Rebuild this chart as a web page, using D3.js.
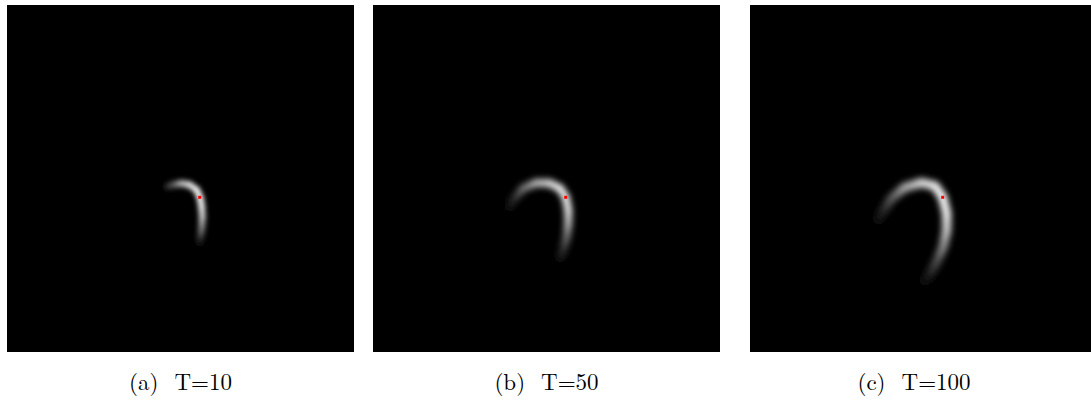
<!DOCTYPE html>
<html>
<head>
<meta charset="utf-8">
<script src="https://cdn.jsdelivr.net/npm/d3@7"></script>
<style>
  html, body { margin: 0; padding: 0; background: #fff; }
  svg { display: block; }
</style>
</head>
<body>
<script>
// Step counts shown under each frame
const panelTags = ["(a)", "(b)", "(c)"];
const stepCounts = [10, 50, 100];

// Source location (grid units, 0..347 on each axis)
const sourcePoint = [192.7, 192.3];

// Ridge of the intensity field for each frame: [x, y, intensity]
const ridgeT10 = [
  [156.3, 183.3, 0.00],
  [164.7, 180.0, 0.30],
  [174.7, 178.3, 0.70],
  [183.0, 180.0, 0.90],
  [189.7, 185.0, 1.00],
  [193.0, 192.3, 1.00],
  [194.7, 201.7, 0.95],
  [195.3, 211.7, 0.80],
  [194.7, 223.3, 0.50],
  [193.0, 235.0, 0.15],
  [192.0, 241.0, 0.00]
];
const ridgeT50 = [
  [133.7, 208.3, 0.00],
  [140.3, 195.0, 0.15],
  [150.3, 183.3, 0.45],
  [163.7, 177.7, 0.75],
  [177.0, 178.3, 0.90],
  [187.0, 183.3, 1.00],
  [192.7, 192.3, 1.00],
  [195.3, 205.0, 0.95],
  [195.3, 218.3, 0.75],
  [193.7, 231.7, 0.45],
  [190.3, 245.0, 0.20],
  [185.3, 258.3, 0.00]
];
const ridgeT100 = [
  [125.0, 221.7, 0.00],
  [131.7, 208.3, 0.12],
  [141.7, 193.3, 0.35],
  [155.0, 182.3, 0.65],
  [171.7, 177.7, 0.85],
  [185.0, 181.0, 0.95],
  [192.7, 192.3, 1.00],
  [196.7, 208.3, 0.95],
  [196.7, 225.0, 0.80],
  [193.3, 241.7, 0.55],
  [186.7, 256.7, 0.30],
  [178.3, 271.7, 0.10],
  [170.0, 281.7, 0.00]
];
const ridges = [ridgeT10, ridgeT50, ridgeT100];

// Layout
const W = 1091, H = 404;
const frameSize = 347;
const frameLeft = [7, 373, 750];
const captionCenter = [180.5, 546.5, 914];
const frameTop = 5;
const bandWidth = [6.5, 7.5, 9];
const blurSigma = [2.7, 3.0, 3.3];

const svg = d3.select("body").append("svg")
  .attr("width", W).attr("height", H);
const defs = svg.append("defs");

const gx = d3.scaleLinear().domain([0, 347]).range([0, frameSize]);
const gy = d3.scaleLinear().domain([0, 347]).range([0, frameSize]);
const shade = d3.scaleLinear().domain([0, 1]).range(["#000000", "#ffffff"]);

ridges.forEach((ridge, k) => {
  const g = svg.append("g")
    .attr("transform", `translate(${frameLeft[k]},${frameTop})`);

  const clipId = `clip-${k}`;
  defs.append("clipPath").attr("id", clipId)
    .append("rect").attr("width", frameSize).attr("height", frameSize);

  g.append("rect")
    .attr("width", frameSize).attr("height", frameSize)
    .attr("fill", "#000");

  const blurId = `blur-${k}`;
  defs.append("filter").attr("id", blurId)
    .attr("x", "-50%").attr("y", "-50%").attr("width", "200%").attr("height", "200%")
    .append("feGaussianBlur").attr("stdDeviation", blurSigma[k]);

  const field = g.append("g").attr("clip-path", `url(#${clipId})`)
    .append("g").attr("filter", `url(#${blurId})`);

  // band segments, each shaded by a gradient between its end intensities
  const segs = d3.pairs(ridge);
  segs.forEach((pair, i) => {
    const [a, b] = pair;
    const lg = defs.append("linearGradient").attr("id", `grad-${k}-${i}`)
      .attr("gradientUnits", "userSpaceOnUse")
      .attr("x1", gx(a[0])).attr("y1", gy(a[1]))
      .attr("x2", gx(b[0])).attr("y2", gy(b[1]));
    lg.append("stop").attr("offset", 0).attr("stop-color", shade(a[2]));
    lg.append("stop").attr("offset", 1).attr("stop-color", shade(b[2]));
  });

  field.selectAll("path.seg")
    .data(segs)
    .join("path")
    .attr("class", "seg")
    .attr("d", d => d3.line().x(p => gx(p[0])).y(p => gy(p[1])).curve(d3.curveLinear)(d))
    .attr("fill", "none")
    .attr("stroke", (d, i) => `url(#grad-${k}-${i})`)
    .attr("stroke-width", bandWidth[k])
    .attr("stroke-linecap", "round")
    .attr("stroke-linejoin", "round");

  // source marker
  g.append("rect")
    .attr("x", gx(sourcePoint[0]) - 1.5)
    .attr("y", gy(sourcePoint[1]) - 1.5)
    .attr("width", 3).attr("height", 3)
    .attr("fill", "#ff0000");

  // caption
  const cap = svg.append("text")
    .attr("x", captionCenter[k])
    .attr("y", 390)
    .attr("text-anchor", "middle")
    .attr("font-family", "'Latin Modern Roman', 'DejaVu Serif', 'Liberation Serif', serif")
    .attr("font-size", 23)
    .attr("fill", "#000");
  cap.append("tspan").text(panelTags[k]);
  cap.append("tspan").attr("dx", 16).text(`T=${stepCounts[k]}`);
});
</script>
</body>
</html>
